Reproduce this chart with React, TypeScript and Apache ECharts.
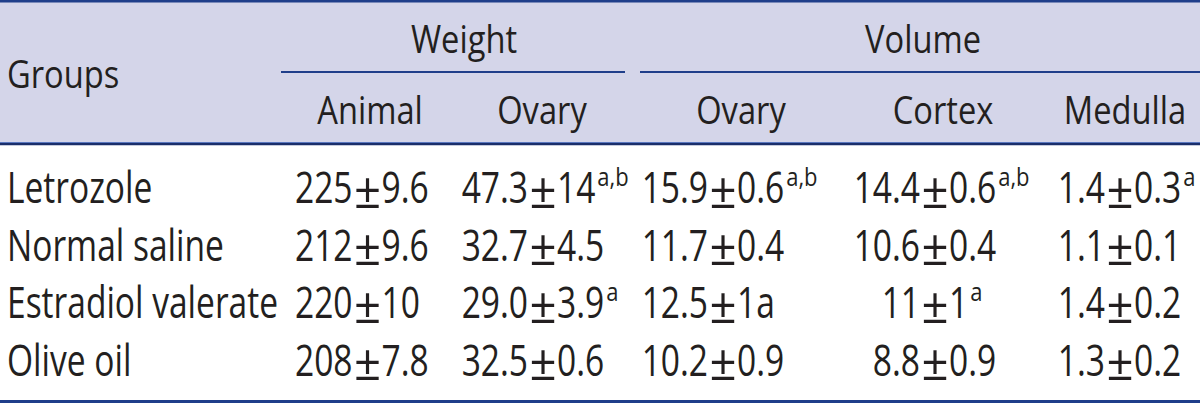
import React, { useEffect, useRef } from "react";
import * as echarts from "echarts";

// ---- data ----
const groups = ["Letrozole", "Normal saline", "Estradiol valerate", "Olive oil"];
const spanHeaders = ["Weight", "Volume"];
const columnHeaders = ["Animal", "Ovary", "Ovary", "Cortex", "Medulla"];
const stubHeader = "Groups";

const animalWeightMean = ["225", "212", "220", "208"];
const animalWeightSD = ["9.6", "9.6", "10", "7.8"];
const animalWeightSup = ["", "", "", ""];

const ovaryWeightMean = ["47.3", "32.7", "29.0", "32.5"];
const ovaryWeightSD = ["14", "4.5", "3.9", "0.6"];
const ovaryWeightSup = ["a,b", "", "a", ""];

const ovaryVolumeMean = ["15.9", "11.7", "12.5", "10.2"];
const ovaryVolumeSD = ["0.6", "0.4", "1a", "0.9"];
const ovaryVolumeSup = ["a,b", "", "", ""];

const cortexVolumeMean = ["14.4", "10.6", "11", "8.8"];
const cortexVolumeSD = ["0.6", "0.4", "1", "0.9"];
const cortexVolumeSup = ["a,b", "", "a", ""];

const medullaVolumeMean = ["1.4", "1.1", "1.4", "1.3"];
const medullaVolumeSD = ["0.3", "0.1", "0.2", "0.2"];
const medullaVolumeSup = ["a", "", "", ""];

// ---- layout / style ----
const FONT = '"Open Sans", "Noto Sans", sans-serif';
const TEXT = "#231f20";
const NAVY = "#1f3e8a";
const HEADER_BG = "#d4d5e9";
const BODY_SIZE = 43;
const BODY_SX = 0.78;
const PM_SIZE = 50;
const PM_SX = 0.95;
const HEAD_SIZE = 38;
const HEAD_SX = 0.86;
const SUP_SIZE = 25;
const SUP_SX = 0.88;
const PM_X = [367.5, 543, 723, 935, 1120];
const HEAD_X = [370, 542, 741, 943, 1125];
const SPAN_X = [464, 923];

export default function App() {
  const ref = useRef<HTMLDivElement>(null);
  useEffect(() => {
    if (!ref.current) return;
    const chart = echarts.init(ref.current, null, { renderer: "svg" });
    const canvas = document.createElement("canvas");
    const ctx = canvas.getContext("2d")!;
    const measure = (t: string, size: number) => {
      ctx.font = `${size}px ${FONT}`;
      return ctx.measureText(t).width;
    };
    const txt = (
      text: string,
      x: number,
      y: number,
      align: string,
      size: number,
      sx: number
    ) => ({
      type: "text",
      x,
      y,
      scaleX: sx,
      style: {
        text,
        x: 0,
        y: 0,
        align,
        verticalAlign: "middle",
        fontSize: size,
        fontFamily: FONT,
        fill: TEXT,
      },
    });

    const cols = [
      { mean: animalWeightMean, sd: animalWeightSD, sup: animalWeightSup },
      { mean: ovaryWeightMean, sd: ovaryWeightSD, sup: ovaryWeightSup },
      { mean: ovaryVolumeMean, sd: ovaryVolumeSD, sup: ovaryVolumeSup },
      { mean: cortexVolumeMean, sd: cortexVolumeSD, sup: cortexVolumeSup },
      { mean: medullaVolumeMean, sd: medullaVolumeSD, sup: medullaVolumeSup },
    ];

    const headerGraphics: any[] = [
      { type: "rect", shape: { x: 0, y: 0, width: 1200, height: 143 }, style: { fill: HEADER_BG }, silent: true },
      { type: "rect", shape: { x: 0, y: 0, width: 1200, height: 2.5 }, style: { fill: NAVY }, silent: true },
      { type: "rect", shape: { x: 281, y: 71, width: 344, height: 2 }, style: { fill: NAVY }, silent: true },
      { type: "rect", shape: { x: 640, y: 71, width: 560, height: 2 }, style: { fill: NAVY }, silent: true },
      { type: "rect", shape: { x: 0, y: 142, width: 1200, height: 1.2 }, style: { fill: "#5a78c0" }, silent: true },
      { type: "rect", shape: { x: 0, y: 143, width: 1200, height: 2.2 }, style: { fill: "#1a2f6b" }, silent: true },
      { type: "rect", shape: { x: 0, y: 400, width: 1200, height: 3 }, style: { fill: NAVY }, silent: true },
      txt(stubHeader, 7, 72.5, "left", HEAD_SIZE, HEAD_SX),
      ...spanHeaders.map((h, k) => txt(h, SPAN_X[k], 37.5, "center", HEAD_SIZE, HEAD_SX)),
      ...columnHeaders.map((h, k) => txt(h, HEAD_X[k], 108.5, "center", HEAD_SIZE, HEAD_SX)),
    ];

    const option: any = {
      animation: false,
      backgroundColor: "#ffffff",
      grid: { left: 0, right: 0, top: 158, bottom: 15 },
      xAxis: { type: "value", min: 0, max: 1200, show: false },
      yAxis: { type: "category", data: groups, inverse: true, show: false },
      graphic: headerGraphics,
      series: [
        {
          type: "custom",
          silent: true,
          encode: { x: 0, y: 1 },
          data: groups.map((_, i) => [0, i]),
          renderItem: (_params: any, api: any) => {
            const i = api.value(1) as number;
            const y = api.coord([0, i])[1];
            const children: any[] = [txt(groups[i], 7, y, "left", BODY_SIZE, BODY_SX)];
            cols.forEach((c, k) => {
              const pm = PM_X[k];
              children.push(txt(c.mean[i], pm - 15, y, "right", BODY_SIZE, BODY_SX));
              children.push(txt("±", pm, y + 1.5, "center", PM_SIZE, PM_SX));
              children.push(txt(c.sd[i], pm + 14, y, "left", BODY_SIZE, BODY_SX));
              if (c.sup[i]) {
                const w = measure(c.sd[i], BODY_SIZE) * BODY_SX;
                children.push(txt(c.sup[i], pm + 14 + w + 2, y - 10.5, "left", SUP_SIZE, SUP_SX));
              }
            });
            return { type: "group", children };
          },
        },
      ],
    };
    chart.setOption(option);
    return () => chart.dispose();
  }, []);
  return (
    <div
      ref={ref}
      style={{ position: "fixed", left: 0, top: 0, width: 1200, height: 403 }}
    />
  );
}
